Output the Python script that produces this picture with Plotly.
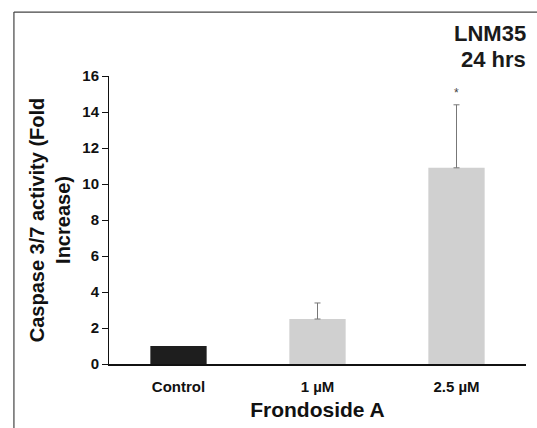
import plotly.graph_objects as go

categories = ["Control", "1 µM", "2.5 µM"]
values = [1.0, 2.5, 10.9]
err_categories = ["1 µM", "2.5 µM"]
err_base = [2.5, 10.9]
errors = [0.89, 3.5]
bar_colors = ["#1e1e1e", "#d0d0d0", "#d0d0d0"]
y_ticks = [0, 2, 4, 6, 8, 10, 12, 14, 16]
sig_marker_y = 15.05

font_family = "Liberation Sans, Arial, sans-serif"

fig = go.Figure()
fig.add_trace(go.Bar(
    x=categories, y=values,
    marker=dict(color=bar_colors, line=dict(width=0)),
    width=0.405,
))
fig.add_trace(go.Scatter(
    x=err_categories, y=err_base, mode="markers",
    marker=dict(size=1, color="rgba(0,0,0,0)"),
    error_y=dict(type="data", array=errors, arrayminus=[0, 0], symmetric=False,
                 color="#777777", thickness=1, width=3),
))

fig.add_annotation(x=categories[2], y=sig_marker_y, text="*", showarrow=False,
                   font=dict(size=12, color="#444444", family=font_family), yanchor="middle")

fig.add_annotation(xref="paper", yref="paper", x=1.005, y=1.149, xanchor="right", yanchor="middle",
                   text="LNM35", showarrow=False, align="right",
                   font=dict(size=22, color="#1a1a1a", family=font_family, weight="bold"))
fig.add_annotation(xref="paper", yref="paper", x=1.005, y=1.056, xanchor="right", yanchor="middle",
                   text="24 hrs", showarrow=False, align="right",
                   font=dict(size=22, color="#1a1a1a", family=font_family, weight="bold"))

# outer frame lines
fig.add_shape(type="line", xref="paper", yref="paper", x0=-0.228, x1=-0.228, y0=1.222, y1=-0.23,
              line=dict(color="#444444", width=1.2))
fig.add_shape(type="line", xref="paper", yref="paper", x0=-0.228, x1=1.03, y0=1.222, y1=1.222,
              line=dict(color="#444444", width=1.2))

fig.update_layout(
    width=537, height=428,
    margin=dict(l=109, r=11, t=76, b=64),
    paper_bgcolor="white", plot_bgcolor="white",
    showlegend=False,
    font=dict(family=font_family, color="#111111"),
    xaxis=dict(
        showline=True, linecolor="#111111", linewidth=1.5,
        ticks="", ticklabelstandoff=8,
        tickfont=dict(size=15, family=font_family, weight="bold", color="#111111"),
        title=dict(text="Frondoside A", font=dict(size=21, family=font_family, weight="bold"), standoff=9),
        showgrid=False, zeroline=False,
    ),
    yaxis=dict(
        range=[0, 16], tickvals=y_ticks,
        showline=True, linecolor="#111111", linewidth=1,
        ticks="outside", ticklen=6, tickcolor="#111111",
        tickfont=dict(size=15, family=font_family, weight="bold", color="#111111"),
        title=dict(text="Caspase 3/7 activity (Fold<br>Increase)",
                   font=dict(size=20, family=font_family, weight="bold"), standoff=6),
        showgrid=False, zeroline=False,
    ),
)

fig.write_html("out.html", config={"displayModeBar": False},
               post_script="document.body.style.margin='0';document.body.style.overflow='hidden';")
